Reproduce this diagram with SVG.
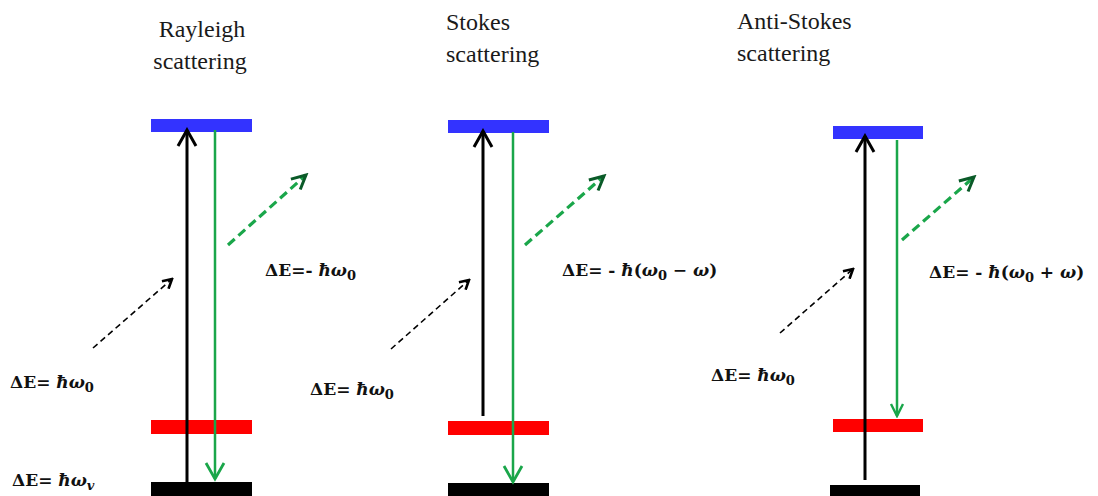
<svg xmlns="http://www.w3.org/2000/svg" width="1098" height="496" viewBox="0 0 1098 496">
<style>
.title{font-family:"Liberation Serif","DejaVu Serif",serif;font-size:24px;fill:#1a1a1a}
.lbl{font-family:"DejaVu Serif","Liberation Serif",serif;font-size:17px;font-weight:bold;fill:#111}
.it{font-style:italic}
.sub{font-size:13px}
.up{stroke:#000;stroke-width:3;fill:none}
.down{stroke:#1aa64a;stroke-width:2.5;fill:none}
.inc{stroke:#000;stroke-width:1.6;stroke-dasharray:6 4;fill:none}
.sc{stroke:#1aa64a;stroke-width:3.2;stroke-dasharray:9 5;fill:none}
.blue{fill:#3333ff}.red{fill:#ff0000}.gnd{fill:#000}
</style>
<defs>
<marker id="hk" markerWidth="12" markerHeight="12" refX="10" refY="6" orient="auto" markerUnits="userSpaceOnUse" viewBox="0 0 12 12">
<path d="M1,1 L10,6 L1,11" fill="none" stroke="#000" stroke-width="2.6"/>
</marker>
<marker id="hb" markerWidth="22" markerHeight="22" refX="19" refY="11" orient="auto" markerUnits="userSpaceOnUse" viewBox="0 0 22 22">
<path d="M3,2 L19,11 L3,20" fill="none" stroke="#000" stroke-width="3"/>
</marker>
<marker id="hg" markerWidth="22" markerHeight="22" refX="19" refY="11" orient="auto" markerUnits="userSpaceOnUse" viewBox="0 0 22 22">
<path d="M3,2 L19,11 L3,20" fill="none" stroke="#1aa64a" stroke-width="2.8"/>
</marker>
<marker id="hgs" markerWidth="16" markerHeight="16" refX="14" refY="8" orient="auto" markerUnits="userSpaceOnUse" viewBox="0 0 16 16">
<path d="M2,2 L14,8 L2,14" fill="none" stroke="#1aa64a" stroke-width="2.4"/>
</marker>
<marker id="hgd" markerWidth="20" markerHeight="20" refX="17" refY="10" orient="auto" markerUnits="userSpaceOnUse" viewBox="0 0 20 20">
<path d="M3,3 L17,10 L3,17" fill="none" stroke="#0a5a28" stroke-width="3"/>
</marker>
</defs>

<g id="rayleigh">
<text class="title" x="202" y="37" text-anchor="middle">Rayleigh</text>
<text class="title" x="200" y="69" text-anchor="middle">scattering</text>
<rect class="blue" x="151" y="119" width="101" height="13"/>
<rect class="red" x="151" y="420" width="101" height="14"/>
<rect class="gnd" x="151" y="482" width="101" height="14"/>
<text class="lbl" x="265" y="276">ΔE=- <tspan class="it">ħω</tspan><tspan class="sub" dy="4">0</tspan></text>
<text class="lbl" x="10" y="388">ΔE= <tspan class="it">ħω</tspan><tspan class="sub" dy="4">0</tspan></text>
<text class="lbl" x="12" y="486">ΔE= <tspan class="it">ħω</tspan><tspan class="sub it" dy="4">v</tspan></text>
</g>

<g id="stokes">
<text class="title" x="446" y="30">Stokes</text>
<text class="title" x="446" y="62">scattering</text>
<rect class="blue" x="448" y="120" width="101" height="13"/>
<rect class="red" x="448" y="421" width="101" height="14"/>
<rect class="gnd" x="448" y="483" width="101" height="13"/>
<text class="lbl" x="562" y="276">ΔE= - <tspan class="it">ħ</tspan>(<tspan class="it">ω</tspan><tspan class="sub" dy="4">0</tspan><tspan dy="-4"> − </tspan><tspan class="it">ω</tspan>)</text>
<text class="lbl" x="310" y="395">ΔE= <tspan class="it">ħω</tspan><tspan class="sub" dy="4">0</tspan></text>
</g>

<g id="antistokes">
<text class="title" x="737" y="29">Anti-Stokes</text>
<text class="title" x="737" y="61">scattering</text>
<rect class="blue" x="833" y="126" width="90" height="13"/>
<rect class="red" x="833" y="419" width="90" height="13"/>
<rect class="gnd" x="830" y="485" width="90" height="11"/>
<text class="lbl" x="929" y="278">ΔE= - <tspan class="it">ħ</tspan>(<tspan class="it">ω</tspan><tspan class="sub" dy="4">0</tspan><tspan dy="-4"> + </tspan><tspan class="it">ω</tspan>)</text>
<text class="lbl" x="711" y="381">ΔE= <tspan class="it">ħω</tspan><tspan class="sub" dy="4">0</tspan></text>
</g>

<g id="connectors">
<line class="up" x1="187" y1="483" x2="187" y2="130" marker-end="url(#hb)"/>
<line class="down" x1="215" y1="130" x2="215" y2="479" marker-end="url(#hg)"/>
<line class="sc" x1="228" y1="245" x2="306" y2="175" marker-end="url(#hgd)"/>
<line class="inc" x1="93" y1="348" x2="172" y2="279" marker-end="url(#hk)"/>

<line class="up" x1="483" y1="416" x2="483" y2="131" marker-end="url(#hb)"/>
<line class="down" x1="513" y1="132" x2="513" y2="482" marker-end="url(#hg)"/>
<line class="sc" x1="525" y1="245" x2="604" y2="176" marker-end="url(#hgd)"/>
<line class="inc" x1="391" y1="349" x2="469" y2="280" marker-end="url(#hk)"/>

<line class="up" x1="865" y1="480" x2="865" y2="136" marker-end="url(#hb)"/>
<line class="down" x1="897" y1="140" x2="897" y2="416" marker-end="url(#hgs)"/>
<line class="sc" x1="902" y1="240" x2="974" y2="177" marker-end="url(#hgd)"/>
<line class="inc" x1="780" y1="333" x2="853" y2="269" marker-end="url(#hk)"/>
</g>
</svg>
